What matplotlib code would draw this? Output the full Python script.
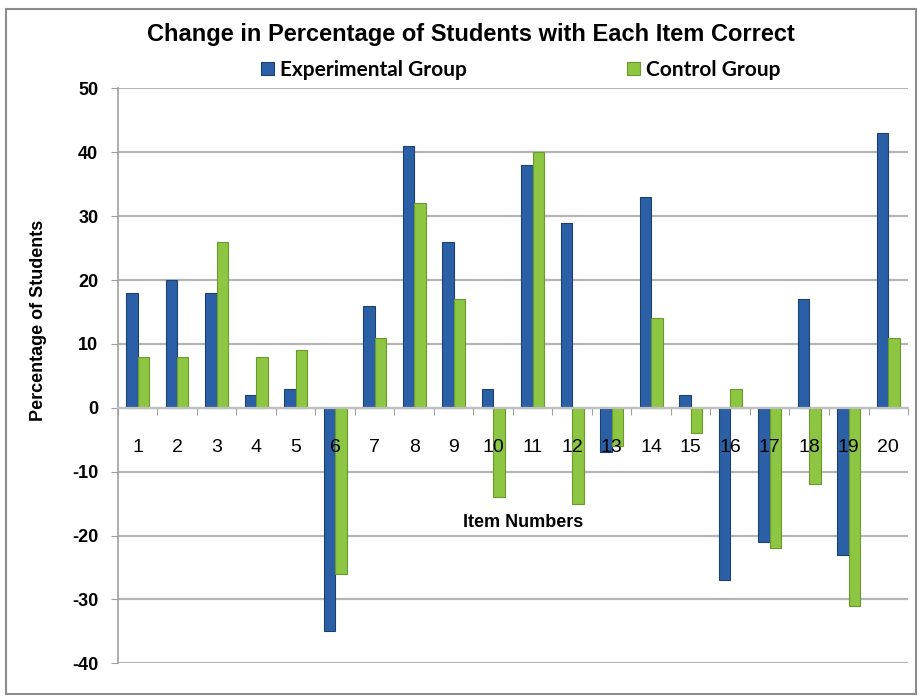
import numpy as np
import matplotlib
matplotlib.use('Agg')
import matplotlib.pyplot as plt
from matplotlib.patches import Rectangle

items = [str(i) for i in range(1, 21)]
experimental = [18, 20, 18, 2, 3, -35, 16, 41, 26, 3, 38, 29, -7, 33, 2, -27, -21, 17, -23, 43]
control = [8, 8, 26, 8, 9, -26, 11, 32, 17, -14, 40, -15, -6, 14, -4, 3, -22, -12, -31, 11]
y_ticks = [-40, -30, -20, -10, 0, 10, 20, 30, 40, 50]

plt.rcParams['font.family'] = ['Liberation Sans', 'DejaVu Sans']

fig = plt.figure(figsize=(9.2, 6.96), dpi=100)
fig.patches.append(Rectangle((0.006, 0.003), 0.99, 0.984, transform=fig.transFigure,
                             fill=False, edgecolor='#8c8c8c', linewidth=1.5))
ax = fig.add_axes([0.128, 0.047, 0.859, 0.826])

x = np.arange(len(items))
w = 0.29
ax.bar(x - w / 2, experimental, w, color='#2b5fa6', edgecolor='#1d416f', linewidth=0.8,
       label='Experimental Group', zorder=3)
ax.bar(x + w / 2, control, w, color='#8dc642', edgecolor='#6a9a2c', linewidth=0.8,
       label='Control Group', zorder=3)

ax.set_xlim(-0.5, len(items) - 0.5)
ax.set_ylim(-40, 50)
ax.set_yticks(y_ticks)
ax.set_yticklabels([str(v) for v in y_ticks], fontsize=13, fontweight='bold')
ax.yaxis.grid(True, color='#b5b5b5', linewidth=1.6, zorder=0)
ax.tick_params(axis='y', length=5, color='#a0a0a0', pad=9)

for s in ['top', 'right']:
    ax.spines[s].set_visible(False)
ax.spines['left'].set_color('#a0a0a0')
ax.spines['left'].set_linewidth(1.2)
ax.spines['bottom'].set_position(('data', 0))
ax.spines['bottom'].set_color('#c0c0c0')
ax.spines['bottom'].set_linewidth(1.6)
ax.spines['bottom'].set_zorder(4)

# category labels sit just under the zero line, drawn over the bars
ax.set_xticks(np.arange(len(items) + 1) - 0.5)
ax.set_xticklabels([])
ax.tick_params(axis='x', length=5, color='#a0a0a0')
for xi, lab in zip(x, items):
    ax.text(xi, -6.2, lab, ha='center', va='center', fontsize=14, zorder=6)

ax.text(0.513, 0.245, 'Item Numbers', transform=ax.transAxes, ha='center', va='center',
        fontsize=13, fontweight='bold', zorder=6)
fig.text(0.042, 0.54, 'Percentage of Students', rotation=90, ha='center', va='center',
         fontsize=13, fontweight='bold')
fig.text(0.512, 0.95, 'Change in Percentage of Students with Each Item Correct',
         ha='center', va='center', fontsize=17, fontweight='bold')

fig.legend(loc='center', bbox_to_anchor=(0.566, 0.9), ncol=2, frameon=False,
           prop={'family': ['Lato', 'DejaVu Sans'], 'weight': 'bold', 'size': 15},
           handlelength=0.6, handleheight=0.6, handletextpad=0.3, columnspacing=7.7)

fig.savefig('out.png', dpi=100, facecolor='white')
